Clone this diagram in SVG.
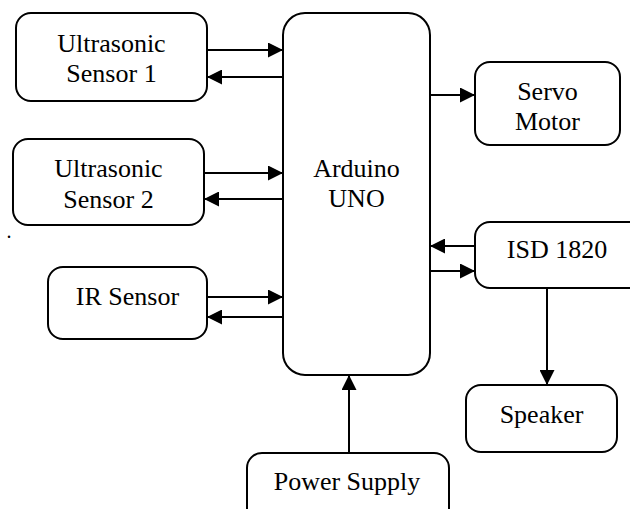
<svg xmlns="http://www.w3.org/2000/svg" width="630" height="509" viewBox="0 0 630 509">
<style>
.box{fill:#fff;stroke:#000;stroke-width:2}
.t{font-family:Liberation Serif,Tinos,Times New Roman,serif;font-size:26px;fill:#000;text-anchor:middle}
.c{stroke:#000;stroke-width:2;fill:none;marker-end:url(#ah)}
</style>
<defs>
<marker id="ah" markerUnits="userSpaceOnUse" markerWidth="15" markerHeight="15" refX="15" refY="7.5" orient="auto" viewBox="0 0 15 15">
<path d="M0,0 L15,7.5 L0,15 Z" fill="#000"/>
</marker>
</defs>
<rect width="630" height="509" fill="#fff"/>
<g id="us1"><rect class="box" x="16" y="13" width="191" height="88" rx="15"/><text class="t" x="111.5" y="52">Ultrasonic</text><text class="t" x="111.5" y="82">Sensor 1</text></g>
<g id="us2"><rect class="box" x="13" y="139" width="191" height="86" rx="15"/><text class="t" x="108.5" y="177">Ultrasonic</text><text class="t" x="108.5" y="208">Sensor 2</text></g>
<g id="ir"><rect class="box" x="48" y="267" width="159" height="72" rx="15"/><text class="t" x="127.5" y="305">IR Sensor</text></g>
<g id="arduino"><rect class="box" x="283" y="13" width="147" height="362" rx="22"/><text class="t" x="356.5" y="177">Arduino</text><text class="t" x="356.5" y="207">UNO</text></g>
<g id="servo"><rect class="box" x="475" y="62" width="145" height="83" rx="15"/><text class="t" x="547.5" y="100">Servo</text><text class="t" x="547.5" y="130">Motor</text></g>
<g id="isd"><rect class="box" x="475" y="222" width="175" height="66" rx="15"/><text class="t" x="557" y="258">ISD 1820</text></g>
<g id="speaker"><rect class="box" x="466" y="385" width="151" height="67" rx="15"/><text class="t" x="541.5" y="423">Speaker</text></g>
<g id="power"><rect class="box" x="247" y="453" width="202" height="80" rx="15"/><text class="t" x="347" y="490">Power Supply</text></g>
<text class="t" x="9" y="238" style="font-size:20px">.</text>
<g id="connectors">
<line class="c" x1="207" y1="50" x2="283" y2="50"/>
<line class="c" x1="283" y1="77" x2="207" y2="77"/>
<line class="c" x1="204" y1="173" x2="283" y2="173"/>
<line class="c" x1="283" y1="199" x2="204" y2="199"/>
<line class="c" x1="207" y1="297" x2="283" y2="297"/>
<line class="c" x1="283" y1="317" x2="207" y2="317"/>
<line class="c" x1="430" y1="95" x2="475" y2="95"/>
<line class="c" x1="475" y1="246" x2="430" y2="246"/>
<line class="c" x1="430" y1="271" x2="475" y2="271"/>
<line class="c" x1="547" y1="288" x2="547" y2="385"/>
<line class="c" x1="349" y1="453" x2="349" y2="375"/>
</g>
</svg>
